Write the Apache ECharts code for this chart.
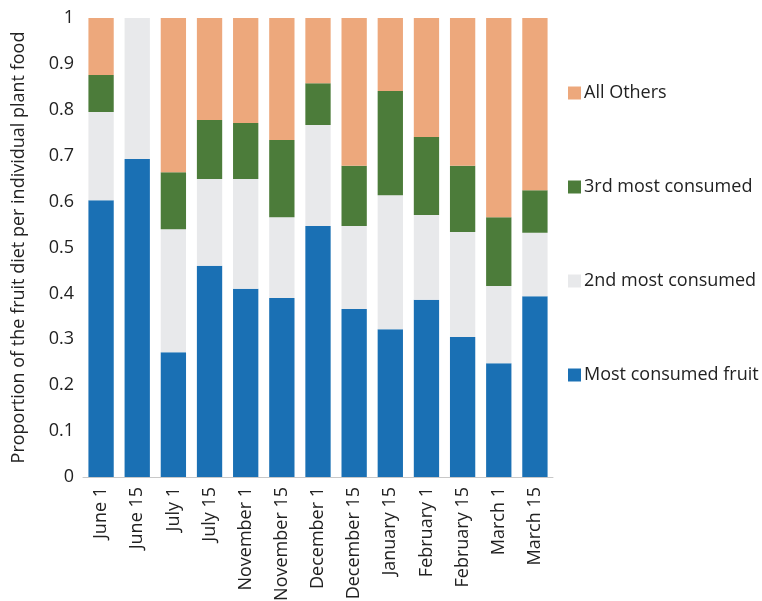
<!DOCTYPE html>
<html>
<head>
<meta charset="utf-8">
<script src="https://cdn.jsdelivr.net/npm/echarts@6/dist/echarts.min.js"></script>
<style>
  html, body { margin: 0; padding: 0; background: #fff; }
  #chart { width: 762px; height: 601px; }
</style>
</head>
<body>
<div id="chart"></div>
<script>
var categories = ['June 1', 'June 15', 'July 1', 'July 15', 'November 1', 'November 15',
    'December 1', 'December 15', 'January 15', 'February 1', 'February 15', 'March 1', 'March 15'];

// values read as cumulative tops, stored here as segment sizes
var mostConsumed = [0.603, 0.693, 0.272, 0.460, 0.410, 0.390, 0.547, 0.366, 0.322, 0.386, 0.305, 0.248, 0.394];
var second = [0.192, 0.307, 0.268, 0.189, 0.239, 0.176, 0.220, 0.181, 0.292, 0.185, 0.229, 0.168, 0.138];
var third = [0.081, 0, 0.124, 0.129, 0.122, 0.168, 0.091, 0.131, 0.227, 0.170, 0.144, 0.150, 0.093];
var allOthers = [0.124, 0, 0.336, 0.222, 0.229, 0.266, 0.142, 0.322, 0.159, 0.259, 0.322, 0.434, 0.375];

var yTicks = [0, 0.1, 0.2, 0.3, 0.4, 0.5, 0.6, 0.7, 0.8, 0.9, 1];

var font = 'Open Sans';

function bar(name, data, color) {
    return {
        name: name,
        type: 'bar',
        stack: 'diet',
        data: data,
        barCategoryGap: '30%',
        itemStyle: { color: color },
        emphasis: { disabled: true }
    };
}

var chart = echarts.init(document.getElementById('chart'));
chart.setOption({
    animation: false,
    textStyle: { fontFamily: font },
    grid: { left: 83, right: 209, top: 18, bottom: 124, outerBoundsMode: 'none' },
    legend: {
        orient: 'vertical',
        left: 563,
        top: 79,
        itemWidth: 13,
        itemHeight: 13,
        itemGap: 76,
        icon: 'rect',
        selectedMode: false,
        data: ['All Others', '3rd most consumed', '2nd most consumed', 'Most consumed fruit'],
        textStyle: { fontFamily: font, fontSize: 18, color: '#222', padding: [0, 0, 0, -2] }
    },
    xAxis: {
        type: 'category',
        data: categories,
        axisLine: { lineStyle: { color: '#c8c8c8', width: 1 } },
        axisTick: { show: false },
        axisLabel: {
            rotate: 90,
            interval: 0,
            margin: 10,
            fontSize: 18,
            color: '#222',
            fontFamily: font
        }
    },
    yAxis: {
        type: 'value',
        min: 0,
        max: 1,
        interval: 0.1,
        name: 'Proportion of the fruit diet per individual plant food',
        nameLocation: 'middle',
        nameGap: 55,
        nameTextStyle: { fontSize: 18, color: '#222', fontFamily: font },
        axisLine: { show: false },
        axisTick: { show: false },
        splitLine: { show: false },
        axisLabel: {
            fontSize: 18,
            color: '#222',
            margin: 9,
            fontFamily: font,
            formatter: function (v) {
                var t = yTicks.find(function (k) { return Math.abs(k - v) < 1e-6; });
                return t === undefined ? '' : String(t);
            }
        }
    },
    series: [
        bar('Most consumed fruit', mostConsumed, '#1a70b4'),
        bar('2nd most consumed', second, '#e8e9eb'),
        bar('3rd most consumed', third, '#4c7c3a'),
        bar('All Others', allOthers, '#eda87c')
    ]
});
</script>
</body>
</html>
